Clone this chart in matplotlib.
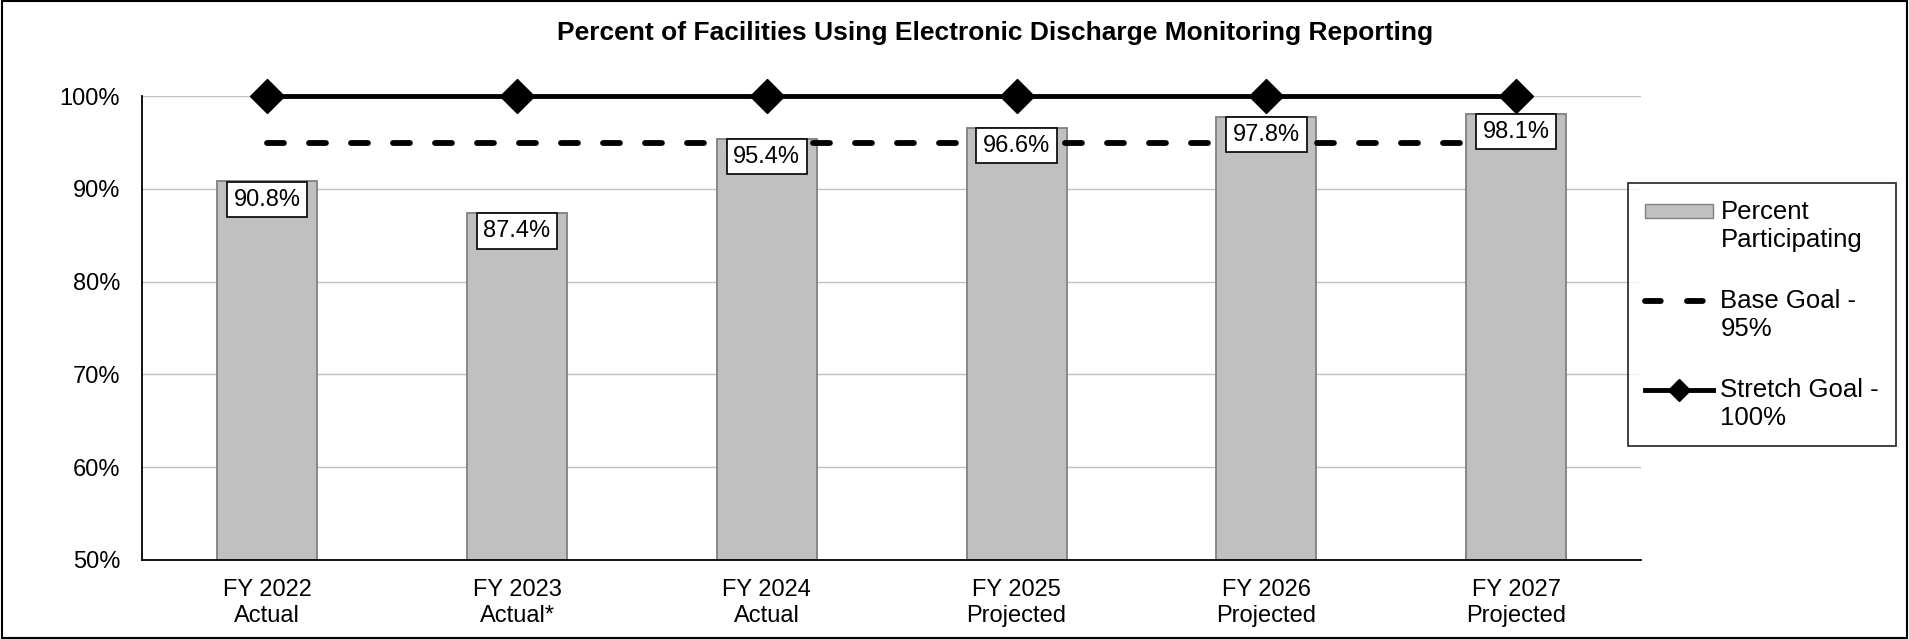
import matplotlib
matplotlib.use("Agg")
import matplotlib.pyplot as plt
from matplotlib.patches import Patch, Rectangle
from matplotlib.lines import Line2D
import numpy as np

plt.rcParams['font.family'] = ['Liberation Sans', 'DejaVu Sans']

categories = ["FY 2022\nActual", "FY 2023\nActual*", "FY 2024\nActual",
              "FY 2025\nProjected", "FY 2026\nProjected", "FY 2027\nProjected"]
percent = [90.8, 87.4, 95.4, 96.6, 97.8, 98.1]
base_goal = [95, 95, 95, 95, 95, 95]
stretch_goal = [100, 100, 100, 100, 100, 100]

x = np.arange(len(categories))

fig = plt.figure(figsize=(19.09, 6.39), dpi=100)
ax = fig.add_axes([0.0746, 0.124, 0.785, 0.7255])

ax.bar(x, percent, width=0.4, color='#C0C0C0', edgecolor='#808080', linewidth=1.3, zorder=2)
ax.plot(x, base_goal, color='black', linewidth=4.2, dashes=(2.9, 4.3),
        dash_capstyle='round', zorder=3)
ax.plot(x, stretch_goal, color='black', linewidth=3.5, marker='D', markersize=17,
        zorder=4, clip_on=False)

for xi, v in zip(x, percent):
    ax.annotate(f"{v:.1f}%", (xi, v), xytext=(0, -13), textcoords='offset points',
                ha='center', va='center', fontsize=17, zorder=5,
                bbox=dict(boxstyle='square,pad=0.28', fc='white', ec='black', lw=1.2))

ax.set_xlim(-0.5, len(categories) - 0.5)
ax.set_ylim(50, 100)
ax.set_yticks(range(50, 101, 10))
ax.set_yticklabels([f"{t}%" for t in range(50, 101, 10)], fontsize=17)
ax.set_xticks(x)
ax.set_xticklabels(categories, fontsize=17)
ax.tick_params(axis='y', length=0, pad=16)
ax.tick_params(axis='x', length=0, pad=14)
ax.grid(axis='y', color='#C0C0C0', linewidth=1, zorder=0)
ax.set_axisbelow(True)
for s in ['top', 'right']:
    ax.spines[s].set_visible(False)
ax.spines['left'].set_linewidth(1.3)
ax.spines['bottom'].set_linewidth(1.3)

fig.text(0.521, 0.948, "Percent of Facilities Using Electronic Discharge Monitoring Reporting",
         ha='center', va='center', fontsize=19, fontweight='bold')

handles = [Patch(facecolor='#C0C0C0', edgecolor='#808080'),
           Line2D([], [], color='black', linewidth=4.2, dashes=(2.7, 4.5), dash_capstyle='round'),
           Line2D([], [], color='black', linewidth=3.5, marker='D', markersize=11)]
labels = ["Percent\nParticipating", "Base Goal -\n95%", "Stretch Goal -\n100%"]
leg = fig.legend(handles, labels, loc='upper left', bbox_to_anchor=(0.8528, 0.7136),
                 fontsize=18.5, frameon=True, fancybox=False, edgecolor='black',
                 labelspacing=1.45, handlelength=2.65, handleheight=0.45,
                 handletextpad=0.3, borderpad=0.65, borderaxespad=0)
leg.get_frame().set_linewidth(1.3)

# align legend keys with the first line of each two-line label
dy = 11
for h in leg.legend_handles:
    if isinstance(h, Line2D):
        h.set_ydata(np.asarray(h.get_ydata()) + dy)
    else:
        h.set_y(h.get_y() + dy)

fig.patches.append(Rectangle((0.001, 0.002), 0.998, 0.996, transform=fig.transFigure,
                             fill=False, edgecolor='black', linewidth=1.5))

fig.savefig("out.png", dpi=100)
